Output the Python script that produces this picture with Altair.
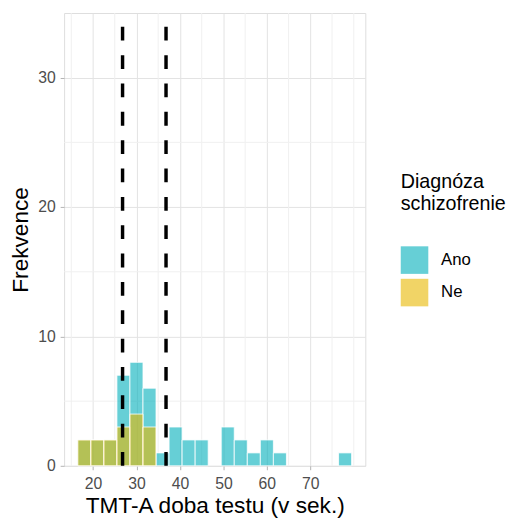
import altair as alt
import pandas as pd

# ---- data ----
bin_centers = [18, 21, 24, 27, 30, 33, 36, 39, 42, 45, 48, 51, 54, 57, 60, 63, 66, 69, 72, 75, 78]
ano_counts = [2, 2, 2, 7, 8, 6, 1, 3, 2, 2, 0, 3, 2, 1, 2, 1, 0, 0, 0, 0, 1]
ne_counts = [2, 2, 2, 3, 4, 3, 0, 0, 0, 0, 0, 0, 0, 0, 0, 0, 0, 0, 0, 0, 0]
groups = ["Ano", "Ne"]
group_colors = ["#00AFBB", "#E7B800"]
bin_width = 3
mean_lines = [26.8, 36.8]
x_ticks = [20, 30, 40, 50, 60, 70]
x_minor = [15, 25, 35, 45, 55, 65, 75, 80]
y_ticks = [0, 10, 20, 30]
y_minor = [5, 15, 25]
x_domain = [13.35, 82.65]
y_domain = [0, 35]

rows = []
for g, counts in zip(groups, [ano_counts, ne_counts]):
    for c, n in zip(bin_centers, counts):
        if n > 0:
            rows.append({"group": g, "center": c, "count": n})
df = pd.DataFrame(rows)

FONT = "Liberation Sans"
xscale = alt.Scale(domain=x_domain, nice=False, zero=False)
yscale = alt.Scale(domain=y_domain, nice=False, zero=False)

x_axis = alt.Axis(
    values=x_ticks,
    title="TMT-A doba testu (v sek.)",
    grid=True,
    gridColor="#E2E2E2",
    gridWidth=1,
    domain=False,
    tickColor="#B3B3B3",
    tickSize=4,
    labelFontSize=16,
    labelColor="#4D4D4D",
    labelPadding=6,
    labelFont=FONT,
    titleFont=FONT,
    titleFontSize=23,
    titleFontWeight="normal",
    titleColor="black",
    titleBaseline="alphabetic",
    titleY=47,
)
y_axis = alt.Axis(
    values=y_ticks,
    title="Frekvence",
    grid=True,
    gridColor="#E2E2E2",
    gridWidth=1,
    domain=False,
    tickColor="#B3B3B3",
    tickSize=4,
    labelFontSize=16,
    labelColor="#4D4D4D",
    labelPadding=5,
    labelFont=FONT,
    titleFont=FONT,
    titleFontSize=23,
    titleFontWeight="normal",
    titleColor="black",
    titleBaseline="alphabetic",
    titleAngle=270,
    titleX=-37,
    titleY=230,
    titleAlign="center",
)

minor_x = alt.Chart(pd.DataFrame({"v": x_minor})).mark_rule(
    color="#F0F0F0", strokeWidth=1
).encode(x=alt.X("v:Q", scale=xscale, axis=x_axis))

minor_y = alt.Chart(pd.DataFrame({"v": y_minor})).mark_rule(
    color="#F0F0F0", strokeWidth=1
).encode(y=alt.Y("v:Q", scale=yscale, axis=y_axis))

bars = alt.Chart(df).transform_calculate(
    x0=f"datum.center - {bin_width}/2",
    x1=f"datum.center + {bin_width}/2",
).mark_bar(fillOpacity=0.6, stroke="white", strokeWidth=0.8).encode(
    x=alt.X("x0:Q", scale=xscale, axis=x_axis),
    x2="x1:Q",
    y=alt.Y("count:Q", scale=yscale, axis=y_axis),
    y2=alt.datum(0),
    color=alt.Color(
        "group:N",
        scale=alt.Scale(domain=groups, range=group_colors),
        legend=alt.Legend(
            title=["Diagnóza", "schizofrenie"],
            orient="none",
            legendX=342,
            legendY=162,
            titleFont=FONT,
            titleFontSize=20,
            titleFontWeight="normal",
            titleColor="black",
            titleLineHeight=22,
            titlePadding=33,
            titleAnchor="start",
            labelFont=FONT,
            labelFontSize=17,
            labelColor="black",
            labelOffset=13,
            symbolType="square",
            symbolSize=784,
            symbolStrokeWidth=0,
            symbolOpacity=0.6,
            rowPadding=5,
            padding=0,
        ),
    ),
)

vlines = alt.Chart(pd.DataFrame({"m": mean_lines})).mark_rule(
    color="black", strokeWidth=3.5, strokeDash=[14, 14.8]
).encode(
    x=alt.X("m:Q", scale=xscale, axis=x_axis),
    y=alt.value(460),
    y2=alt.value(0),
)

chart = alt.layer(minor_x, minor_y, bars, vlines).properties(
    width=306,
    height=460,
    padding={"left": 57, "top": 1, "right": 147, "bottom": 55},
    autosize=alt.AutoSizeParams(type="none"),
).configure_view(
    stroke="#C4C4C4", strokeWidth=1
).configure(font=FONT, background="white")

chart.save("out.html", embed_options={"renderer": "svg", "actions": False})
